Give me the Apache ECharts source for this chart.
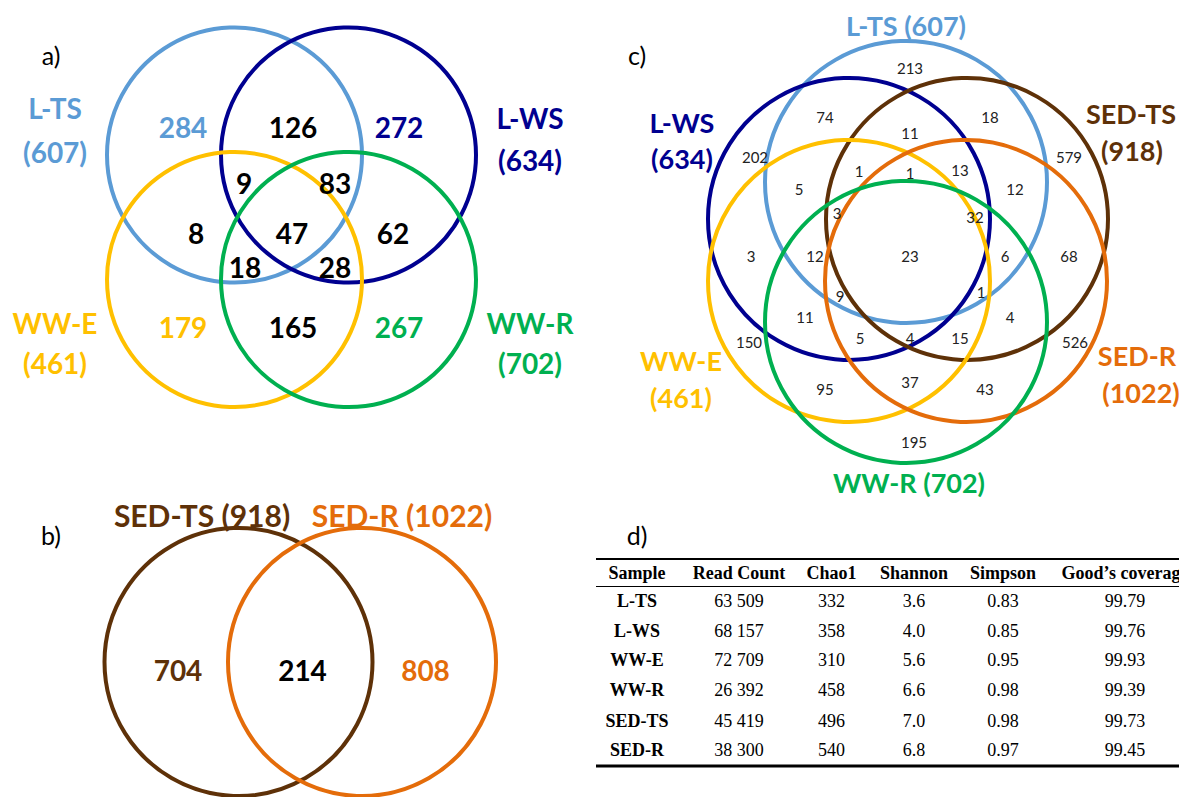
<!DOCTYPE html>
<html><head><meta charset="utf-8">
<script src="https://cdn.jsdelivr.net/npm/echarts@6/dist/echarts.min.js"></script>
<style>html,body{margin:0;padding:0;background:#fff}#c{width:1179px;height:797px}</style>
</head><body><div id="c"></div>
<script>
// ================= DATA =================
const panelLetters = ['a)', 'b)', 'c)', 'd)'];

const setNamesA = ['L-TS', 'L-WS', 'WW-E', 'WW-R'];
const setTotalsA = [607, 634, 461, 702];
const regionCountsA = [284, 126, 272, 9, 83, 8, 47, 62, 18, 28, 179, 165, 267];

const setNamesB = ['SED-TS', 'SED-R'];
const setTotalsB = [918, 1022];
const regionCountsB = [704, 214, 808];

const setNamesC = ['L-TS', 'L-WS', 'SED-TS', 'WW-E', 'SED-R', 'WW-R'];
const setTotalsC = [607, 634, 918, 461, 1022, 702];
const regionCountsC = [213, 74, 18, 11, 202, 579, 1, 1, 13, 5, 12, 3, 32, 3, 12, 23, 6, 68, 9, 1, 11, 4, 150, 5, 4, 15, 526, 95, 37, 43, 195];

const tableHeaders = ['Sample', 'Read Count', 'Chao1', 'Shannon', 'Simpson', 'Good\u2019s coverage'];
const sampleNames = ['L-TS', 'L-WS', 'WW-E', 'WW-R', 'SED-TS', 'SED-R'];
const readCounts = [63509, 68157, 72709, 26392, 45419, 38300];
const chao1 = [332, 358, 310, 458, 496, 540];
const shannon = [3.6, 4.0, 5.6, 6.6, 7.0, 6.8];
const simpson = [0.83, 0.85, 0.95, 0.98, 0.98, 0.97];
const goodsCoverage = [99.79, 99.76, 99.93, 99.39, 99.73, 99.45];

// ================= LAYOUT (panel-local units) =================
const setColor = {
  'L-TS': '#5B9BD5', 'L-WS': '#000090', 'WW-E': '#FFC000', 'WW-R': '#00B050',
  'SED-TS': '#5E3108', 'SED-R': '#E46C0A'
};
const panels = [
  { left: 0, top: 0, width: 590, height: 480 },
  { left: 0, top: 480, width: 590, height: 317 },
  { left: 590, top: 0, width: 589, height: 500 },
  { left: 590, top: 520, width: 589, height: 277 }
];
const letterPos = [[51, 55], [51, 55], [47, 55], [47, 15]];

// panel a
const circlesA = [[234.5, 155], [348.5, 155], [234.5, 279.5], [348.5, 279.5]];
const radiusA = 127.5;
const namePosA = [[55, 108], [530, 118], [55, 323], [530, 323]];
const totalPosA = [[55, 152], [530, 160], [55, 363], [530, 363]];
const regionPosA = [[183, 127], [293, 127], [399, 127], [244, 183], [335, 183], [196, 233], [292, 233], [393, 233], [245, 267], [335, 267], [183, 327], [293, 327], [399, 327]];
const regionOwnerA = [0, -1, 1, -1, -1, -1, -1, -1, -1, -1, 2, -1, 3];

// panel b
const circlesB = [[238.5, 182], [362, 182]];
const radiusB = 134;
const titlePosB = [[202, 35], [402, 35]];
const regionPosB = [[178, 190], [302.5, 190], [425.5, 190]];
const regionOwnerB = [0, -1, 1];

// panel c
const circlesC = [[316, 182], [259, 219], [377, 219], [259, 281], [376, 281], [316, 322]];
const radiusC = 141;
const labelPosC = [
  { one: [316, 25] },
  { name: [92, 122], total: [92, 158] },
  { name: [541, 113], total: [542, 150] },
  { name: [91, 360], total: [91, 397] },
  { name: [547, 355], total: [551, 392] },
  { one: [319, 482] }
];
const regionPosC = [[320, 68], [235, 117], [400, 117], [320, 133], [165, 157], [479, 157], [269, 171], [320, 173], [370, 170], [209, 189], [425, 189], [247, 213], [385, 217], [161, 256], [225, 256], [320, 256], [415, 256], [479, 256], [250, 296], [391, 292], [215, 317], [420, 317], [159, 342], [270, 338], [320, 338], [370, 338], [485, 342], [235, 389], [320, 382], [395, 389], [324, 442]];

// panel d
const colX = [47, 149, 241.5, 324, 413, 535];
const headerY = 53;
const rowY = [81, 110.5, 139.5, 170, 200.5, 229.5];
const rules = [{ y: 39, w: 2.2 }, { y: 66.5, w: 1 }, { y: 246, w: 2.8 }];
const ruleX = [6, 600];

// ================= BUILD =================
const FONT_SANS = 'Lato, "Open Sans", sans-serif';
const FONT_SERIF = '"Liberation Serif", "Times New Roman", serif';

const grid = [], xAxis = [], yAxis = [], series = [];
panels.forEach((p, i) => {
  grid.push({ left: p.left, top: p.top, width: p.width, height: p.height, show: false });
  xAxis.push({ type: 'value', gridIndex: i, min: 0, max: p.width, show: false });
  yAxis.push({ type: 'value', gridIndex: i, min: 0, max: p.height, inverse: true, show: false });
});

function circleSeries(g, centers, r, names) {
  series.push({
    type: 'custom', xAxisIndex: g, yAxisIndex: g, silent: true, clip: false,
    data: centers.map((c, i) => [c[0], c[1], r, i]),
    renderItem: function (params, api) {
      const p = api.coord([api.value(0), api.value(1)]);
      const rr = api.size([api.value(2), 0])[0];
      return {
        type: 'circle', shape: { cx: p[0], cy: p[1], r: rr },
        style: { fill: 'none', stroke: setColor[names[params.dataIndex]], lineWidth: 4 }
      };
    }
  });
}

function textSeries(g, items) {
  series.push({
    type: 'custom', xAxisIndex: g, yAxisIndex: g, silent: true, clip: false,
    data: items.map((it) => [it.pos[0], it.pos[1]]),
    renderItem: function (params, api) {
      const it = items[params.dataIndex];
      const p = api.coord([api.value(0), api.value(1)]);
      return {
        type: 'text', x: p[0], y: p[1],
        style: { text: it.text, fill: it.color, font: it.font, align: it.align || 'center', verticalAlign: 'middle' }
      };
    }
  });
}

function lineSeries(g, segs) {
  series.push({
    type: 'custom', xAxisIndex: g, yAxisIndex: g, silent: true, clip: false,
    data: segs.map((s) => [s.x1, s.y, s.x2, s.w]),
    renderItem: function (params, api) {
      const a = api.coord([api.value(0), api.value(1)]);
      const b = api.coord([api.value(2), api.value(1)]);
      return { type: 'line', shape: { x1: a[0], y1: a[1], x2: b[0], y2: b[1] }, style: { stroke: '#000', lineWidth: api.value(3) } };
    }
  });
}

// panel letters
panelLetters.forEach((t, i) => textSeries(i, [{ pos: letterPos[i], text: t, color: '#000', font: '25px ' + FONT_SANS }]));

// ---- panel a ----
circleSeries(0, circlesA, radiusA, setNamesA);
const itemsA = [];
const fA = 'bold 28px ' + FONT_SANS;
setNamesA.forEach((n, i) => {
  itemsA.push({ pos: namePosA[i], text: n, color: setColor[n], font: fA });
  itemsA.push({ pos: totalPosA[i], text: '(' + setTotalsA[i] + ')', color: setColor[n], font: fA });
});
regionCountsA.forEach((v, i) => {
  const o = regionOwnerA[i];
  itemsA.push({ pos: regionPosA[i], text: String(v), color: o < 0 ? '#000' : setColor[setNamesA[o]], font: fA });
});
textSeries(0, itemsA);

// ---- panel b ----
circleSeries(1, circlesB, radiusB, setNamesB);
const itemsB = [];
setNamesB.forEach((n, i) => {
  itemsB.push({ pos: titlePosB[i], text: n + ' (' + setTotalsB[i] + ')', color: setColor[n], font: 'bold 30px ' + FONT_SANS });
});
regionCountsB.forEach((v, i) => {
  const o = regionOwnerB[i];
  itemsB.push({ pos: regionPosB[i], text: String(v), color: o < 0 ? '#000' : setColor[setNamesB[o]], font: 'bold 28px ' + FONT_SANS });
});
textSeries(1, itemsB);

// ---- panel c ----
circleSeries(2, circlesC, radiusC, setNamesC);
const itemsC = [];
setNamesC.forEach((n, i) => {
  const L = labelPosC[i];
  const f = 'bold 27px ' + FONT_SANS;
  if (L.one) itemsC.push({ pos: L.one, text: n + ' (' + setTotalsC[i] + ')', color: setColor[n], font: f });
  else {
    itemsC.push({ pos: L.name, text: n, color: setColor[n], font: f });
    itemsC.push({ pos: L.total, text: '(' + setTotalsC[i] + ')', color: setColor[n], font: f });
  }
});
regionCountsC.forEach((v, i) => {
  itemsC.push({ pos: regionPosC[i], text: String(v), color: '#222', font: '15px ' + FONT_SANS });
});
textSeries(2, itemsC);

// ---- panel d (table) ----
lineSeries(3, rules.map((r) => ({ x1: ruleX[0], x2: ruleX[1], y: r.y, w: r.w })));
const itemsD = [];
tableHeaders.forEach((h, j) => itemsD.push({ pos: [colX[j], headerY], text: h, color: '#000', font: 'bold 18px ' + FONT_SERIF }));
function fmtThousands(n) { const s = String(n); return s.slice(0, s.length - 3) + ' ' + s.slice(s.length - 3); }
sampleNames.forEach((s, i) => {
  const cells = [s, fmtThousands(readCounts[i]), String(chao1[i]), shannon[i].toFixed(1), simpson[i].toFixed(2), goodsCoverage[i].toFixed(2)];
  cells.forEach((c, j) => itemsD.push({ pos: [colX[j], rowY[i]], text: c, color: '#000', font: (j === 0 ? 'bold ' : '') + '18px ' + FONT_SERIF }));
});
textSeries(3, itemsD);

const chart = echarts.init(document.getElementById('c'), null, { renderer: 'svg' });
chart.setOption({ animation: false, backgroundColor: '#fff', grid, xAxis, yAxis, series });
</script>
</body></html>
